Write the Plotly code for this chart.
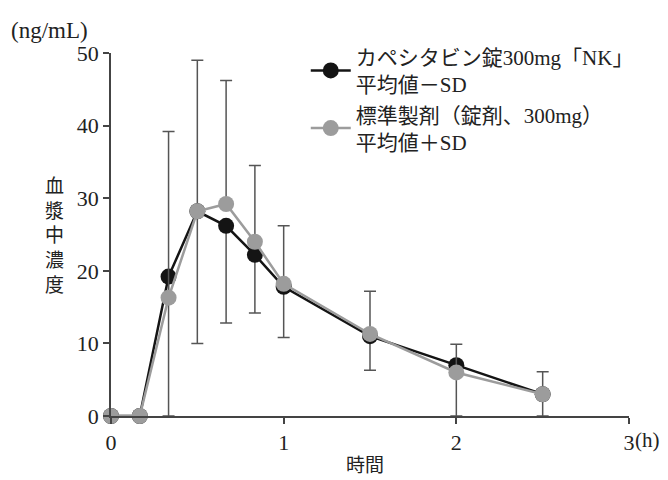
import plotly.graph_objects as go

time_h = [0, 1/6, 1/3, 0.5, 2/3, 5/6, 1, 1.5, 2, 2.5]
test_mean = [0, 0, 19.2, 28.2, 26.2, 22.2, 17.8, 11.0, 7.0, 3.0]
test_sd_minus = [0, 0, 19.2, 18.2, 13.4, 8.0, 7.0, 4.7, 7.0, 3.0]
ref_mean = [0, 0, 16.3, 28.2, 29.2, 24.0, 18.2, 11.3, 6.0, 3.0]
ref_sd_plus = [0, 0, 22.9, 20.8, 17.0, 10.5, 8.0, 5.9, 3.9, 3.1]

x_ticks = [0, 1, 2, 3]
y_ticks = [0, 10, 20, 30, 40, 50]

name_test = "カペシタビン錠300mg「NK」<br>平均値－SD"
name_ref = "標準製剤（錠剤、300mg）<br>平均値＋SD"

FONT = "Liberation Serif, Noto Sans CJK JP, serif"
err_color = "#555555"

fig = go.Figure()
fig.add_trace(go.Scatter(
    x=time_h, y=test_mean, name=name_test, mode="lines+markers",
    line=dict(color="#141414", width=2.5),
    marker=dict(color="#141414", size=16),
    error_y=dict(type="data", symmetric=False, array=[0]*len(time_h),
                 arrayminus=test_sd_minus, color=err_color, thickness=1.5, width=6),
    cliponaxis=False,
))
fig.add_trace(go.Scatter(
    x=time_h, y=ref_mean, name=name_ref, mode="lines+markers",
    line=dict(color="#9c9c9c", width=2.5),
    marker=dict(color="#9c9c9c", size=16),
    error_y=dict(type="data", symmetric=False, array=ref_sd_plus,
                 arrayminus=[0]*len(time_h), color=err_color, thickness=1.5, width=6),
    cliponaxis=False,
))

# page body has an 8px margin: plot area spans x 111-629, y 53-416 in the window
fig.update_layout(
    width=660, height=472,
    margin=dict(l=103, r=39, t=45, b=64),
    paper_bgcolor="white", plot_bgcolor="white",
    font=dict(family=FONT, size=20, color="#222"),
    showlegend=True,
    legend=dict(x=0.376, y=1.045, xanchor="left", yanchor="top",
                font=dict(size=21, family=FONT), bgcolor="rgba(0,0,0,0)",
                tracegroupgap=4, itemwidth=40),
    xaxis=dict(range=[0, 3], tickvals=x_ticks, ticktext=[str(v) for v in x_ticks],
               showline=True, linecolor="#444", linewidth=1.5,
               ticks="outside", ticklen=6, tickcolor="#444", tickwidth=1.5,
               showgrid=False, zeroline=False, tickfont=dict(size=22)),
    yaxis=dict(range=[0, 50], tickvals=y_ticks,
               showline=True, linecolor="#444", linewidth=1.5,
               ticks="outside", ticklen=6, tickcolor="#444", tickwidth=1.5,
               showgrid=False, zeroline=False, tickfont=dict(size=22)),
    annotations=[
        dict(text="(ng/mL)", xref="paper", yref="paper", x=-0.197, y=1.063,
             xanchor="left", yanchor="middle", showarrow=False, font=dict(size=23)),
        dict(text="(h)", xref="paper", yref="paper", x=1.008, y=-0.066,
             xanchor="left", yanchor="middle", showarrow=False, font=dict(size=21)),
        dict(text="時間", xref="paper", yref="paper", x=0.49, y=-0.135,
             xanchor="center", yanchor="middle", showarrow=False, font=dict(size=19)),
        dict(text="血<br>漿<br>中<br>濃<br>度", xref="paper", yref="paper", x=-0.109, y=0.497,
             xanchor="center", yanchor="middle", showarrow=False, font=dict(size=19)),
    ],
)

fig.write_html("out.html")
